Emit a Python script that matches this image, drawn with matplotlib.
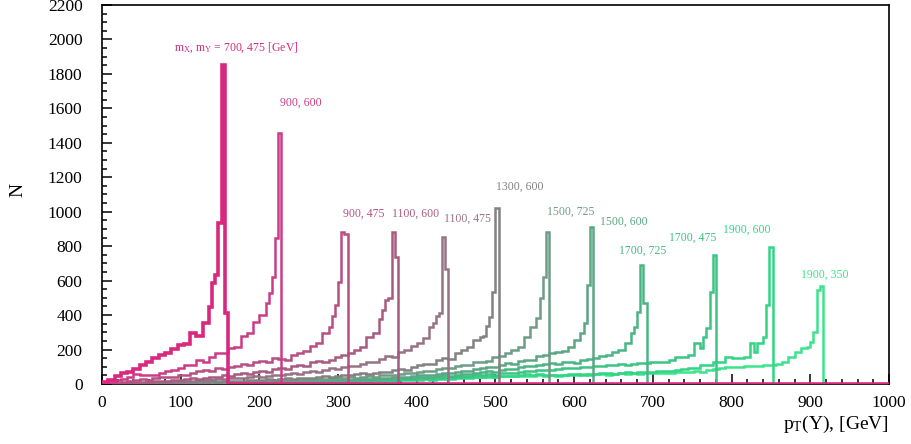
import numpy as np
import matplotlib
matplotlib.use("Agg")
import matplotlib.pyplot as plt

plt.rcParams['font.family'] = ['Liberation Serif', 'DejaVu Serif']
plt.rcParams['mathtext.fontset'] = 'custom'
plt.rcParams['mathtext.rm'] = 'Liberation Serif'
plt.rcParams['mathtext.it'] = 'Liberation Serif:italic'

# signal points (mX, mY) in GeV
names = ['700, 475', '900, 600', '900, 475', '1100, 600', '1100, 475', '1300, 600',
         '1500, 725', '1500, 600', '1700, 725', '1700, 475', '1900, 600', '1900, 350']

# tails: 8 GeV bins from 0 up to fine_start; peaks: 4 GeV bins after that
fine_start = [136, 208, 288, 352, 416, 480, 544, 600, 672, 760, 824, 896]

tail_1 = [12, 25, 45, 62, 72, 85, 108, 130, 150, 168, 182, 205, 226, 230, 296, 278, 354]
peak_1 = [449, 584, 632, 933, 1850, 412]

tail_2 = [6, 14, 22, 30, 40, 60, 55, 52, 55, 62, 78, 81, 91, 110, 108, 139, 130, 159, 178,
          182, 207, 217, 278, 294, 362, 400]
peak_2 = [470, 526, 623, 845, 1459]

tail_3 = [2, 5, 8, 12, 18, 22, 28, 25, 32, 38, 42, 40, 50, 55, 62, 75, 82, 78, 90, 85, 100,
          105, 118, 112, 125, 135, 128, 150, 145, 139, 168, 178, 190, 222, 236, 294]
peak_3 = [333, 395, 458, 594, 880, 870]

tail_4 = [1, 3, 4, 6, 8, 12, 10, 14, 17, 15, 20, 24, 22, 28, 32, 30, 36, 42, 40, 50, 48, 58,
          62, 60, 70, 75, 72, 85, 92, 88, 105, 110, 106, 125, 132, 128, 140, 155, 168, 180,
          200, 215, 275, 296]
peak_4 = [380, 430, 490, 500, 880, 735]

tail_5 = [1, 2, 3, 4, 6, 5, 8, 10, 9, 12, 14, 13, 17, 18, 20, 24, 22, 26, 30, 28, 33, 36, 34,
          40, 44, 42, 48, 54, 52, 58, 64, 60, 70, 76, 72, 82, 90, 86, 98, 106, 104, 118, 128,
          126, 145, 160, 156, 188, 197, 220, 238, 267]
peak_5 = [330, 354, 395, 412, 855, 670]

tail_6 = [1, 1, 2, 3, 3, 4, 5, 5, 6, 7,
          8, 9, 8, 10, 12, 11, 13, 15, 14, 16,
          18, 17, 20, 22, 21, 24, 27, 26, 29, 32,
          31, 34, 37, 36, 40, 44, 42, 48, 52, 50,
          56, 61, 59, 66, 72, 70, 80, 87, 84, 100,
          108, 118, 114, 138, 150, 146, 180, 195, 216, 255]
peak_6 = [270, 280, 337, 391, 536, 1020]

tail_7 = [1, 1, 1, 2, 2, 3, 3, 4, 4, 5,
          5, 6, 7, 6, 8, 9, 8, 10, 11, 10,
          12, 14, 13, 15, 17, 16, 18, 20, 19, 22,
          24, 23, 26, 28, 27, 30, 33, 32, 36, 38,
          37, 42, 45, 43, 50, 54, 52, 60, 64, 62,
          72, 76, 74, 86, 92, 90, 105, 112, 110, 125,
          130, 135, 155, 162, 180, 197, 217, 275]
peak_7 = [333, 333, 382, 498, 623, 884]

tail_8 = [1, 1, 1, 1, 2, 2, 2, 3, 3, 3,
          4, 4, 5, 5, 5, 6, 6, 7, 7, 8,
          8, 9, 10, 10, 11, 12, 13, 13, 14, 15,
          16, 18, 17, 19, 21, 20, 22, 25, 24, 26,
          28, 31, 30, 33, 36, 35, 40, 43, 42, 47,
          50, 54, 52, 60, 65, 63, 72, 77, 75, 88,
          94, 100, 98, 112, 120, 116, 135, 142, 140, 160,
          168, 180, 187, 190, 216]
peak_8 = [255, 255, 294, 352, 575, 909]

tail_9 = [1, 1, 1, 1, 1, 2, 2, 2, 2, 3,
          3, 3, 4, 4, 4, 5, 5, 5, 6, 6,
          7, 7, 8, 8, 9, 9, 10, 11, 11, 12,
          13, 14, 13, 15, 17, 16, 18, 20, 19, 21,
          22, 25, 24, 26, 29, 28, 31, 34, 33, 37,
          39, 42, 41, 46, 50, 48, 55, 59, 57, 65,
          69, 74, 72, 82, 88, 86, 97, 104, 102, 112,
          116, 120, 118, 125, 130, 122, 138, 145, 151, 160,
          168, 187, 200, 238]
peak_9 = [294, 333, 420, 690, 468]

tail_10 = [1, 1, 1, 1, 1, 1, 2, 2, 2, 2,
           2, 3, 3, 3, 3, 4, 4, 4, 5, 5,
           5, 6, 6, 7, 7, 8, 8, 9, 9, 10,
           10, 11, 12, 12, 13, 14, 15, 16, 17, 18,
           19, 21, 20, 22, 24, 23, 26, 28, 27, 30,
           32, 35, 34, 37, 40, 39, 43, 46, 45, 50,
           53, 56, 55, 61, 65, 63, 70, 75, 73, 82,
           80, 84, 88, 90, 92, 95, 98, 100, 105, 102,
           108, 110, 115, 112, 118, 122, 120, 128, 130, 130,
           139, 159, 159, 168, 240]
peak_10 = [207, 275, 323, 536, 749]

tail_11 = [1, 1, 1, 1, 1, 1, 1, 2, 2, 2,
           2, 2, 2, 3, 3, 3, 3, 4, 4, 4,
           4, 5, 5, 5, 6, 6, 7, 7, 8, 8,
           8, 9, 9, 10, 10, 11, 12, 12, 13, 14,
           14, 16, 15, 17, 19, 18, 20, 22, 21, 23,
           24, 27, 26, 28, 31, 30, 33, 36, 35, 38,
           40, 43, 42, 46, 49, 48, 53, 56, 55, 60,
           50, 52, 54, 50, 56, 58, 55, 60, 58, 62,
           64, 60, 66, 68, 65, 70, 72, 68, 74, 76,
           78, 82, 86, 90, 95, 110, 112, 128, 130, 159,
           149, 150, 159]
peak_11 = [236, 187, 236, 236, 275, 458, 797]

tail_12 = [2, 3, 4, 4, 5, 5, 6, 6, 7, 7,
           8, 8, 9, 9, 10, 10, 11, 11, 12, 12,
           13, 14, 13, 15, 16, 15, 17, 18, 17, 19,
           20, 19, 21, 22, 21, 23, 24, 23, 25, 26,
           25, 27, 28, 27, 29, 30, 29, 31, 32, 31,
           33, 35, 34, 36, 37, 35, 38, 40, 38, 41,
           42, 44, 42, 45, 46, 44, 48, 49, 47, 50,
           48, 51, 47, 53, 50, 54, 56, 52, 57, 59,
           55, 59, 61, 57, 63, 60, 64, 61, 63, 66,
           62, 67, 71, 72, 76, 72, 79, 88, 93, 96,
           100, 98, 103, 106, 105, 108, 111, 116, 130, 159,
           187, 207]
peak_12 = [217, 246, 304, 545, 571]

tails = [tail_1, tail_2, tail_3, tail_4, tail_5, tail_6, tail_7, tail_8, tail_9, tail_10, tail_11, tail_12]
peaks = [peak_1, peak_2, peak_3, peak_4, peak_5, peak_6, peak_7, peak_8, peak_9, peak_10, peak_11, peak_12]

colors = ['#d9297e', '#cc3c86', '#b84f82', '#a75b80', '#977285', '#828282',
          '#6f9c86', '#5aa784', '#49b584', '#3cc482', '#31d585', '#3be48c']

# label anchors (data coords)
lab_x = [92, 226, 306, 369, 434, 501, 566, 633, 657, 720, 789, 888]
lab_y = [1950, 1630, 987, 987, 958, 1143, 998, 940, 772, 847, 894, 633]

fig = plt.figure(figsize=(9.12, 4.44), dpi=100)
ax = fig.add_axes([102 / 912, 60 / 444, 787 / 912, 379 / 444])

for i in range(len(names)):
    p = fine_start[i]
    edges = np.concatenate([np.arange(0, p + 1, 8), p + 4 * np.arange(1, len(peaks[i]) + 1)])
    vals = np.array(tails[i] + peaks[i], dtype=float)
    # empty to the end of the axis, as ROOT draws it
    edges = np.append(edges, 1000)
    vals = np.append(vals, 0)
    lw = 2.6 if i == 0 else 1.8
    ax.stairs(vals, edges, color=colors[i], lw=lw, baseline=0, zorder=20 - i)
    if i == 0:
        txt = r'$\mathrm{m_{X}}$, $\mathrm{m_{Y}}$ = ' + names[i] + ' [GeV]'
    else:
        txt = names[i]
    ax.text(lab_x[i], lab_y[i], txt, color=colors[i], fontsize=8.5, ha='left', va='center')

ax.set_xlim(0, 1000)
ax.set_ylim(0, 2200)
ax.set_xticks(np.arange(0, 1001, 100))
ax.set_xticks(np.arange(0, 1001, 20), minor=True)
ax.set_yticks(np.arange(0, 2201, 200))
ax.set_yticks(np.arange(0, 2201, 50), minor=True)
ax.tick_params(which='both', direction='in', top=False, right=False, labelsize=12.5)
ax.tick_params(which='major', length=7, width=1.1)
ax.tick_params(which='minor', length=3.5, width=1.1)
ax.tick_params(axis='y', pad=14)
ax.tick_params(axis='x', pad=8)
for s in ax.spines.values():
    s.set_linewidth(1.2)

fig.text(18 / 912, 1 - 190 / 444, 'N', rotation=90, fontsize=14, ha='center', va='center')
fig.text(889 / 912, 1 - 424 / 444, r'$\mathrm{p_{T}}$(Y), [GeV]', fontsize=14, ha='right', va='center')

fig.savefig('out.png', dpi=100)
